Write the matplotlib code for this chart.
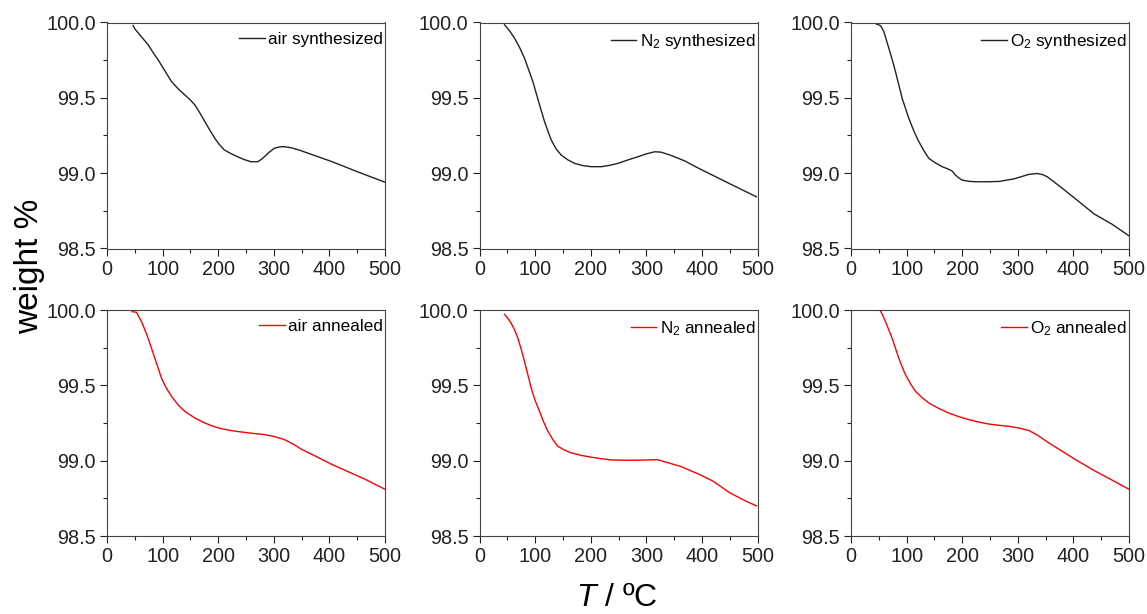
import matplotlib
matplotlib.use('Agg')
import matplotlib.pyplot as plt
from matplotlib.ticker import MultipleLocator, FormatStrFormatter

plt.rcParams['font.family'] = ['Liberation Sans', 'DejaVu Sans']
plt.rcParams['mathtext.fontset'] = 'custom'
plt.rcParams['mathtext.rm'] = 'Liberation Sans'
plt.rcParams['mathtext.it'] = 'Liberation Sans:italic'

# data (temperature in degC, weight %)
air_syn_T = [47, 50, 62, 74, 83, 92, 104, 116, 128, 140, 150, 158, 167, 176, 185, 194, 202, 211, 223, 235, 247, 259, 271, 277, 283, 292, 301, 310, 319, 332, 346, 375, 405, 450, 500]
air_syn_w = [99.98, 99.958, 99.905, 99.852, 99.8, 99.752, 99.68, 99.608, 99.56, 99.519, 99.485, 99.453, 99.4, 99.342, 99.285, 99.231, 99.19, 99.154, 99.13, 99.109, 99.09, 99.076, 99.076, 99.09, 99.109, 99.14, 99.165, 99.174, 99.176, 99.168, 99.153, 99.115, 99.076, 99.01, 98.94]

n2_syn_T = [45, 54, 63, 72, 81, 89, 96, 102, 108, 117, 123, 129, 138, 147, 159, 171, 186, 201, 219, 234, 249, 267, 285, 300, 315, 326, 343, 370, 390, 420, 450, 475, 498]
n2_syn_w = [99.985, 99.945, 99.896, 99.835, 99.763, 99.68, 99.608, 99.53, 99.453, 99.342, 99.28, 99.22, 99.16, 99.12, 99.088, 99.065, 99.05, 99.043, 99.043, 99.052, 99.065, 99.088, 99.109, 99.128, 99.142, 99.14, 99.12, 99.08, 99.04, 98.985, 98.93, 98.885, 98.843]

o2_syn_T = [45.5, 53, 59, 68, 74, 80, 86, 92, 98, 104, 113, 122, 131, 140, 152, 164, 173, 182, 188, 194, 200, 212, 224, 245, 266, 293, 320, 335, 345, 353, 380, 407, 437, 470, 500]
o2_syn_w = [99.99, 99.98, 99.94, 99.83, 99.755, 99.674, 99.585, 99.497, 99.43, 99.364, 99.28, 99.209, 99.15, 99.098, 99.068, 99.043, 99.03, 99.014, 98.987, 98.968, 98.954, 98.946, 98.943, 98.943, 98.945, 98.962, 98.992, 98.998, 98.99, 98.976, 98.9, 98.82, 98.73, 98.66, 98.584]

air_ann_T = [45, 53, 62, 68, 74, 80, 86, 92, 98, 107, 116, 128, 140, 158, 176, 191, 206, 226, 247, 265, 283, 301, 319, 335, 350, 375, 405, 435, 465, 500]
air_ann_w = [99.989, 99.985, 99.923, 99.87, 99.812, 99.746, 99.68, 99.614, 99.548, 99.48, 99.427, 99.37, 99.327, 99.283, 99.25, 99.228, 99.212, 99.198, 99.188, 99.18, 99.173, 99.16, 99.14, 99.11, 99.075, 99.03, 98.974, 98.925, 98.875, 98.81]

n2_ann_T = [45, 51, 57, 63, 69, 75, 81, 87, 93, 100, 108, 115, 123, 132, 141, 153, 165, 183, 201, 219, 237, 261, 285, 303, 320, 340, 361, 396, 420, 450, 480, 498]
n2_ann_w = [99.971, 99.945, 99.912, 99.868, 99.813, 99.74, 99.658, 99.57, 99.482, 99.4, 99.327, 99.26, 99.195, 99.14, 99.095, 99.07, 99.052, 99.035, 99.023, 99.013, 99.005, 99.003, 99.003, 99.005, 99.007, 98.985, 98.963, 98.908, 98.864, 98.787, 98.73, 98.70]

o2_ann_T = [44, 52, 57, 62, 68, 74, 80, 86, 92, 98, 107, 116, 128, 140, 158, 176, 194, 212, 230, 248, 266, 284, 302, 320, 335, 359, 383, 407, 437, 470, 500]
o2_ann_w = [100.0, 100.0, 99.965, 99.923, 99.868, 99.812, 99.746, 99.68, 99.623, 99.57, 99.51, 99.46, 99.418, 99.383, 99.346, 99.316, 99.292, 99.272, 99.256, 99.243, 99.235, 99.228, 99.217, 99.2, 99.17, 99.11, 99.055, 99.0, 98.935, 98.87, 98.81]

panels = [
    (air_syn_T, air_syn_w, 'air synthesized', '#222222'),
    (n2_syn_T, n2_syn_w, r'N$_2$ synthesized', '#222222'),
    (o2_syn_T, o2_syn_w, r'O$_2$ synthesized', '#222222'),
    (air_ann_T, air_ann_w, 'air annealed', 'red'),
    (n2_ann_T, n2_ann_w, r'N$_2$ annealed', 'red'),
    (o2_ann_T, o2_ann_w, r'O$_2$ annealed', 'red'),
]

W, H = 1147, 614
fig = plt.figure(figsize=(W / 100, H / 100), dpi=100)

lefts = [107, 479.5, 851]
tops = [22.5, 310]
aw, ah = 278, 226

for i, (T, w, label, color) in enumerate(panels):
    r, c = divmod(i, 3)
    ax = fig.add_axes([lefts[c] / W, 1 - (tops[r] + ah) / H, aw / W, ah / H])
    ax.plot(T, w, color=color, lw=1.0, label=label)
    ax.set_xlim(0, 500)
    ax.set_ylim(98.5, 100.0)
    ax.xaxis.set_major_locator(MultipleLocator(100))
    ax.xaxis.set_minor_locator(MultipleLocator(50))
    ax.yaxis.set_major_locator(MultipleLocator(0.5))
    ax.yaxis.set_minor_locator(MultipleLocator(0.25))
    ax.yaxis.set_major_formatter(FormatStrFormatter('%.1f'))
    ax.tick_params(which='major', direction='out', length=5, width=0.8, labelsize=14.3, colors='#222222', pad=3)
    ax.tick_params(which='minor', direction='out', length=3, width=0.8, colors='#222222')
    for s in ax.spines.values():
        s.set_color('#444444')
        s.set_linewidth(0.8)
    ax.legend(loc='upper right', bbox_to_anchor=(1.005, 0.975), frameon=False, fontsize=12.3,
              handlelength=1.5, handletextpad=0.2, borderaxespad=0, borderpad=0.2)

fig.text(30 / W, 1 - 266 / H, 'weight %', rotation=90, ha='center', va='center', fontsize=24)
fig.text(617 / W, 1 - 598 / H, r'$\mathit{T}$ / ºC', ha='center', va='center', fontsize=23)

fig.savefig('out.png', dpi=100)
